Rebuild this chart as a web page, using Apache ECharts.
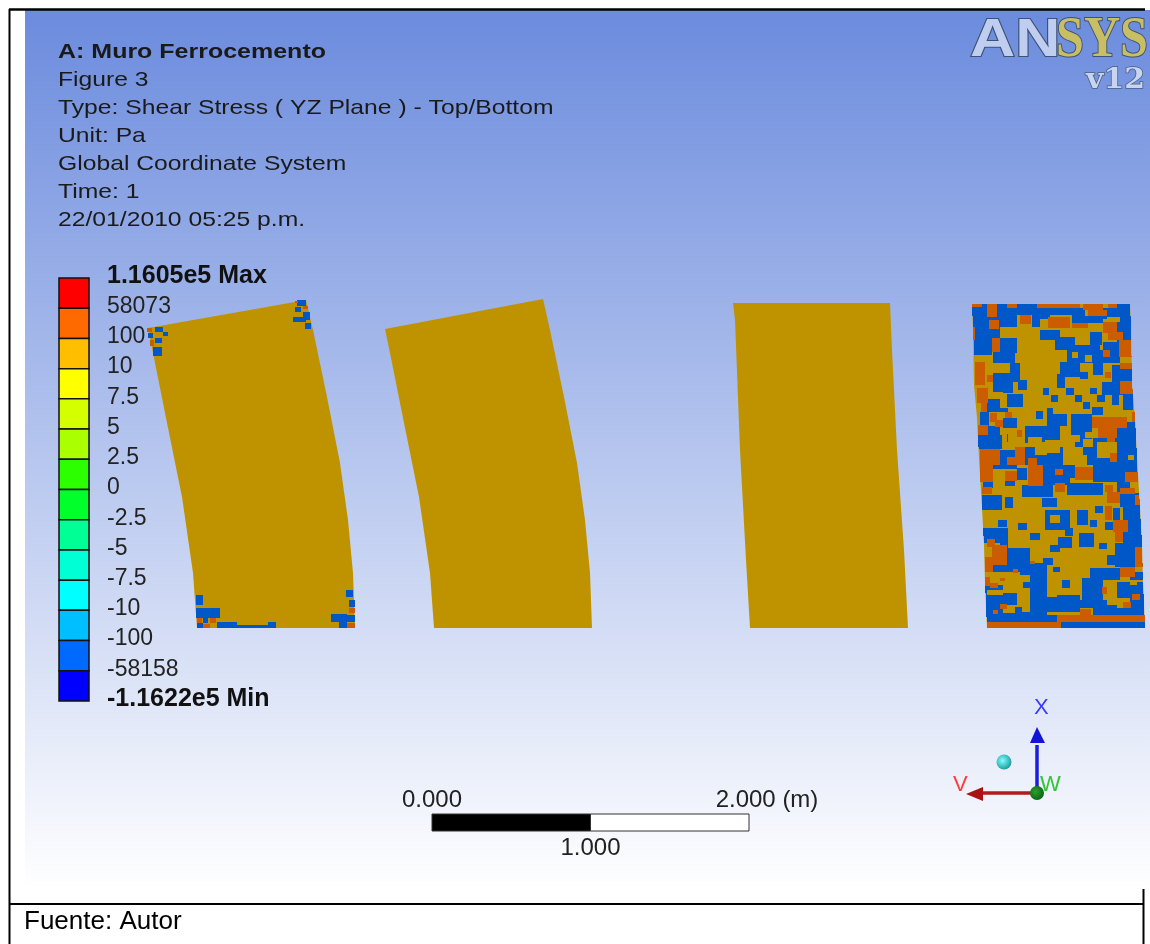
<!DOCTYPE html>
<html><head><meta charset="utf-8">
<style>html,body{margin:0;padding:0;background:#fff}#c{width:1150px;height:944px}</style>
<script src="https://cdn.jsdelivr.net/npm/echarts@6/dist/echarts.min.js"></script>
</head><body><div id="c"></div>
<script>
// Contour legend
const legendColors=['#FF0000','#FF6A00','#FFBF00','#FFFF00','#D4FF00','#AAFF00','#2BFF00','#00FF2B','#00FF95','#00FFD5','#00FFFF','#00BFFF','#006AFF','#0000FF'];
const legendLabels=['1.1605e5 Max','58073','100','10','7.5','5','2.5','0','-2.5','-5','-7.5','-10','-100','-58158','-1.1622e5 Min'];
const headerLines=['A: Muro Ferrocemento','Figure 3','Type: Shear Stress ( YZ Plane ) - Top/Bottom','Unit: Pa','Global Coordinate System','Time: 1','22/01/2010 05:25 p.m.'];
const shearColors={Y:'#BF9300',B:'#0058C8',O:'#CC5C00'};
// Panel outlines on the picture's axes
const panelA=[[148,328],[306,300],[313,330],[327,397],[340,463],[348,520],[353,573],[355,628],[197,628],[193,573],[182,497],[167,423],[153,353]];
const panelB=[[385,329],[543,299],[550,330],[564,397],[577,463],[585,520],[590,573],[592,628],[434,628],[430,573],[419,497],[404,423],[390,353]];
const panelC=[[733,303],[890,303],[892,350],[897,450],[904,550],[908,628],[750,628],[746,560],[740,450],[735,320]];
const panelD=[[972,304],[1130,304],[1131,328],[1132,385],[1135,418],[1137,458],[1140,508],[1142,545],[1143,582],[1145,628],[987,628],[985,582],[984,545],[982,508],[979,458],[977,418],[974,385],[973,328]];
const panelDLeft=[[304,972],[328,973],[385,974],[418,977],[458,979],[508,982],[545,984],[582,985],[628,987]];
// Regions on panel A: class, x, y, w, h
const cornerPatches=[
['B',155,327,8,5],['B',148,333,5,5],['B',163,332,5,4],['B',155,338,7,5],['B',153,347,9,9],['O',147,328,5,4],['O',150,340,4,6],
['B',297,300,9,6],['B',295,307,6,5],['B',303,312,7,8],['B',293,317,13,5],['B',305,323,6,6],['O',295,301,3,2],['O',303,306,5,3],
['B',196,595,7,10],['B',196,608,24,10],['O',197,618,5,5],['B',203,618,5,5],['O',210,618,6,5],['O',203,624,7,4],['B',197,623,6,5],['B',217,622,20,6],['B',237,625,32,3],['B',268,622,8,6],
['B',346,590,7,7],['B',349,600,6,7],['O',349,608,6,5],['B',347,615,8,7],['O',347,623,8,5],['B',331,614,16,8],['B',339,621,8,7]];
// Regions on panel D, upper part (x0,y0,x1,y1, thirds of a pixel from 960,295)
const upperBlue=[[36,27,240,95],[36,95,120,130],[42,130,95,180],[120,130,170,175],[100,170,165,205],[240,40,510,72],[330,60,430,85],[470,27,515,140],
[240,105,300,135],[285,125,345,165],[320,150,420,205],[300,200,360,245],[390,110,425,150],[430,140,480,205],[400,165,430,240],[150,205,180,260],[100,235,150,290],[130,260,160,295],[175,255,200,285],
[290,238,315,280],[360,232,385,252],[455,210,520,300],[425,262,470,300],[250,278,268,300],[318,280,342,300],[272,300,295,320],[345,300,365,320],[390,280,412,296],[412,300,436,322],[368,322,390,342],[228,348,250,372],
[455,300,478,330],[490,300,520,345],[142,296,188,335],[75,312,120,350],[100,340,145,352],[60,352,88,392],[130,368,170,400],[262,340,280,362],[260,358,322,392],[332,358,395,432],[395,335,430,360],
[480,380,525,400],[465,400,530,510],[85,392,120,422],[55,420,125,462],[195,392,300,445],[140,418,160,440],[345,420,370,455],[400,430,470,510],[370,455,440,510],[190,455,310,510],[100,465,165,510],[60,462,100,510]];
const upperGold=[[125,108,142,120],[172,60,215,95],[240,85,440,103],[270,60,335,100],[335,170,355,190],[375,180,395,200],[205,425,245,450],[225,440,260,480],[315,480,380,510],[300,420,360,440],[255,435,300,475],[505,480,522,495],[375,410,398,430],[143,415,160,440],[410,440,470,490],[375,45,440,62],[440,65,480,80]];
const upperOrange=[[36,27,65,35],[80,27,110,65],[142,27,170,38],[230,27,360,38],[370,27,430,45],[385,45,440,62],[445,27,470,38],[180,60,212,88],[265,65,330,98],[335,85,385,100],[88,75,118,103],[36,95,46,135],[430,80,470,115],[445,110,490,135],[478,135,515,185],[95,130,120,170],[430,165,450,185],[45,200,75,270],[480,205,515,222],[80,240,100,260],[435,232,452,250],[52,280,85,325],[62,325,80,350],[480,258,520,298],[135,350,155,370],[90,355,110,380],[105,375,130,395],[395,365,500,400],[415,400,470,430],[440,425,465,440],[55,390,85,420],[170,405,185,425],[515,350,525,380],[60,462,120,510],[140,487,195,510],[165,455,195,490],[205,490,230,510],[450,475,472,500]];
// Regions on panel D, lower part (thirds of a pixel from 960,465)
const lowerBlue=[[100,0,170,12],[170,10,200,45],[135,45,165,62],[70,50,100,68],[250,0,345,40],[250,30,330,60],[185,60,280,95],[320,55,430,90],[400,0,530,50],[470,50,510,90],[480,85,540,125],[65,90,125,135],[135,95,160,130],[245,100,290,125],
[255,135,330,195],[352,135,385,180],[405,122,430,145],[390,165,412,185],[175,175,200,195],[115,165,140,185],[70,190,145,235],[120,215,145,250],[210,205,240,225],[315,190,340,212],[295,215,335,250],[358,205,402,245],[270,240,300,260],[418,233,442,252],[435,170,460,195],
[460,130,480,170],[490,125,545,235],[465,235,550,305],[440,270,470,300],[140,250,210,300],[95,295,260,320],[180,300,260,370],[250,280,278,300],[278,305,300,322],[390,310,480,345],[510,320,555,345],[365,340,430,410],[305,345,330,370],
[75,360,130,460],[130,385,170,420],[110,425,210,460],[210,340,260,460],[255,390,360,440],[355,405,440,430],[400,420,555,450],[470,350,555,400],[510,395,555,430],[75,450,300,472],[300,472,555,490]];
const lowerGold=[[270,150,300,175],[140,330,210,350],[165,350,190,385],[185,375,210,440],[80,375,130,390],[260,370,290,395],[440,345,470,420],[470,400,510,430],[510,345,530,360],[130,420,165,445]];
const lowerOrange=[[57,0,100,52],[65,65,95,88],[135,18,170,48],[205,0,250,62],[285,12,310,30],[345,5,400,45],[495,20,535,50],[285,55,315,80],[435,60,460,80],[440,80,480,115],[480,68,525,88],[525,90,540,120],[435,122,455,165],[460,165,505,200],[465,195,490,230],[80,222,105,245],[95,240,140,300],[75,275,100,320],[525,245,548,305],[480,305,525,335],[210,288,225,298],[160,312,175,325],[120,338,135,348],[75,335,90,362],[90,355,115,370],[425,365,442,388],[515,388,540,405],[490,412,512,430],[120,418,140,432],[100,435,115,447],[360,433,392,452],[290,450,555,470],[80,470,302,490]];

const panelOutlines=[panelA,panelB,panelC,panelD];
const bandIdx=legendColors.map((c,i)=>[i]);
const scaleBar=[[0,1,'#000000'],[1,2,'#FFFFFF']];
function leftAt(y){for(let i=1;i<panelDLeft.length;i++){const a=panelDLeft[i-1],b=panelDLeft[i];if(y<=b[0])return a[1]+(b[1]-a[1])*(y-a[0])/(b[0]-a[0]);}return 987;}
const regions=[];
function addRegions(list,cls,oy){list.forEach(r=>regions.push([cls,Math.round(960+r[0]/3),Math.round(oy+r[1]/3),Math.round(960+r[2]/3),Math.round(oy+r[3]/3)]));}
addRegions(upperBlue,'B',295);addRegions(lowerBlue,'B',465);
addRegions(upperGold,'Y',295);addRegions(lowerGold,'Y',465);
addRegions(upperOrange,'O',295);addRegions(lowerOrange,'O',465);

const LS='"Liberation Sans",Arial,sans-serif';
const headerGraphics=headerLines.map((t,i)=>({type:'text',x:58,y:52+28*i,z:50,scaleX:i==0?1.19:1.176,style:{text:t,x:0,y:0,fill:'#1a1a1a',font:(i==0?'bold ':'')+'21px '+LS,verticalAlign:'middle'}}));
function line(x1,y1,x2,y2,col,w){return {type:'line',z:60,shape:{x1,y1,x2,y2},style:{stroke:col,lineWidth:w}};}
function tri(pts,col){return {type:'polygon',z:61,shape:{points:pts},style:{fill:col}};}
function sph(x,y,r,c0,c1){return {type:'circle',z:62,shape:{cx:x,cy:y,r},style:{fill:new echarts.graphic.RadialGradient(.4,.4,.7,[{offset:0,color:c0},{offset:1,color:c1}])}};}
function txt(t,x,y,font,fill,extra,sx){return {type:'text',x,y,z:63,scaleX:sx||1,style:Object.assign({text:t,x:0,y:0,font,fill,verticalAlign:'middle'},extra||{})};}

const option={
 animation:false,backgroundColor:'#fff',
 graphic:[
  {type:'rect',z:-10,shape:{x:25,y:10,width:1125,height:880},style:{fill:new echarts.graphic.LinearGradient(0,0,0,1,[{offset:0,color:'#6B8BDD'},{offset:1,color:'#FFFFFF'}])}},
  {type:'rect',z:-9,shape:{x:1144,y:890,width:6,height:54},style:{fill:'#fff'}},
  line(9,9.5,1145,9.5,'#000',2.5),line(9.5,9,9.5,944,'#000',2),line(9,904,1144,904,'#000',2),line(1143.5,889,1143.5,944,'#000',2),
  ...headerGraphics,
  txt('Fuente: Autor',24,922,'26px '+LS,'#000'),
  txt('AN',970,41,'bold 53px '+LS,'#BFCDF0',{stroke:'#3E5275',lineWidth:2},1.18),
  txt('SYS',1056,41,'bold 57px "Liberation Serif",serif','#C8BE64',{stroke:'#3E5275',lineWidth:2},.88),
  txt('v12',1086,81,'bold 28px "DejaVu Serif",serif','#C8D4F0',{stroke:'#4A5E80',lineWidth:1.5},1.07),
  line(1037,793,1037,745,'#1C1CDC',3.5),tri([[1037,727],[1030,743],[1045,743]],'#1414D8'),
  line(1037,793,980,793,'#B01C1C',3.5),tri([[966,794],[983,787],[983,801]],'#A81414'),
  sph(1037,793,7,'#2BA02B','#0A5C14'),sph(1004,762,7.5,'#7FFFFF','#109090'),
  txt('X',1034,708,'22px '+LS,'#3A3AFF'),txt('V',953,785,'22px '+LS,'#FF3A3A'),txt('W',1040,785,'22px '+LS,'#33C433')
 ],
 grid:[
  {left:0,top:0,width:1150,height:944},
  {left:59,top:278,width:30,height:423},
  {left:432,top:814,width:317,height:17}
 ],
 xAxis:[
  {gridIndex:0,type:'value',min:0,max:1150,show:false},
  {gridIndex:1,type:'value',min:0,max:1,show:false},
  {gridIndex:2,type:'value',min:0,max:2,interval:1,position:'top',axisLine:{show:false},axisTick:{show:false},splitLine:{show:false},
   axisLabel:{margin:2,fontFamily:LS,fontSize:24,color:'#222',formatter:v=>v===0?'0.000':v===2?'{r|2.000 (m)}':'',rich:{r:{padding:[0,0,0,36],fontFamily:LS,fontSize:24,color:'#222'}}}},
  {gridIndex:2,type:'value',min:0,max:2,interval:1,position:'bottom',axisLine:{show:false},axisTick:{show:false},splitLine:{show:false},
   axisLabel:{margin:5,fontFamily:LS,fontSize:24,color:'#222',formatter:v=>v===1?'1.000':''}}
 ],
 yAxis:[
  {gridIndex:0,type:'value',min:0,max:944,inverse:true,show:false},
  {gridIndex:1,type:'value',min:0,max:14,interval:1,inverse:true,position:'right',axisLine:{show:false},axisTick:{show:false},splitLine:{show:false},
   axisLabel:{margin:18,padding:[0,0,3,0],fontFamily:LS,fontSize:23,color:'#222',formatter:v=>{const t=legendLabels[v];return (v===0||v===14)?'{b|'+t+'}':t;},rich:{b:{fontFamily:LS,fontSize:25,fontWeight:'bold',color:'#111'}}}},
  {gridIndex:2,type:'value',min:0,max:1,show:false}
 ],
 series:[
  {type:'custom',xAxisIndex:0,yAxisIndex:0,clip:false,silent:true,data:panelOutlines.map((p,i)=>[i]),
   renderItem:(ps,api)=>({type:'polygon',shape:{points:panelOutlines[api.value(0)].map(p=>api.coord(p))},style:{fill:shearColors.Y}})},
  {type:'custom',xAxisIndex:0,yAxisIndex:0,clip:false,silent:true,z:3,data:cornerPatches.map(p=>p.slice(1)),
   renderItem:(ps,api)=>{const p=cornerPatches[ps.dataIndex];const a=api.coord([p[1],p[2]]),b=api.coord([p[1]+p[3],p[2]+p[4]]);
     return {type:'rect',shape:{x:a[0],y:a[1],width:b[0]-a[0],height:b[1]-a[1]},style:{fill:shearColors[p[0]]}};}},
  {type:'custom',xAxisIndex:0,yAxisIndex:0,clip:false,silent:true,z:3,data:regions.map(r=>r.slice(1)),
   renderItem:(ps,api)=>{const r=regions[ps.dataIndex];const kids=[];
     for(let y=Math.max(r[2],304);y<Math.min(r[4],628);y+=4){const y2=Math.min(y+4,r[4],628),l=Math.round(leftAt((y+y2)/2));
       const x0=Math.max(r[1],l),x1=Math.min(r[3],l+158);if(x1<=x0)continue;
       const a=api.coord([x0,y]),b=api.coord([x1,y2]);
       kids.push({type:'rect',shape:{x:Math.round(a[0]),y:Math.round(a[1]),width:Math.round(b[0]-a[0]),height:Math.round(b[1]-a[1])},style:{fill:shearColors[r[0]]}});}
     return {type:'group',children:kids};}},
  {type:'custom',xAxisIndex:1,yAxisIndex:1,clip:false,silent:true,z:5,data:bandIdx,
   renderItem:(ps,api)=>{const i=api.value(0);const a=api.coord([0,i]),b=api.coord([1,i+1]);
     return {type:'rect',shape:{x:a[0],y:a[1],width:b[0]-a[0],height:b[1]-a[1]},style:{fill:legendColors[i],stroke:'#111',lineWidth:1.5}};}},
  {type:'custom',xAxisIndex:2,yAxisIndex:2,clip:false,silent:true,z:5,data:scaleBar.map(s=>[s[0],s[1]]),
   renderItem:(ps,api)=>{const s=scaleBar[ps.dataIndex];const a=api.coord([s[0],1]),b=api.coord([s[1],0]);
     return {type:'rect',shape:{x:a[0],y:a[1],width:b[0]-a[0],height:b[1]-a[1]},style:{fill:s[2],stroke:'#333',lineWidth:1}};}}
 ]
};
echarts.init(document.getElementById('c')).setOption(option);
</script></body></html>
